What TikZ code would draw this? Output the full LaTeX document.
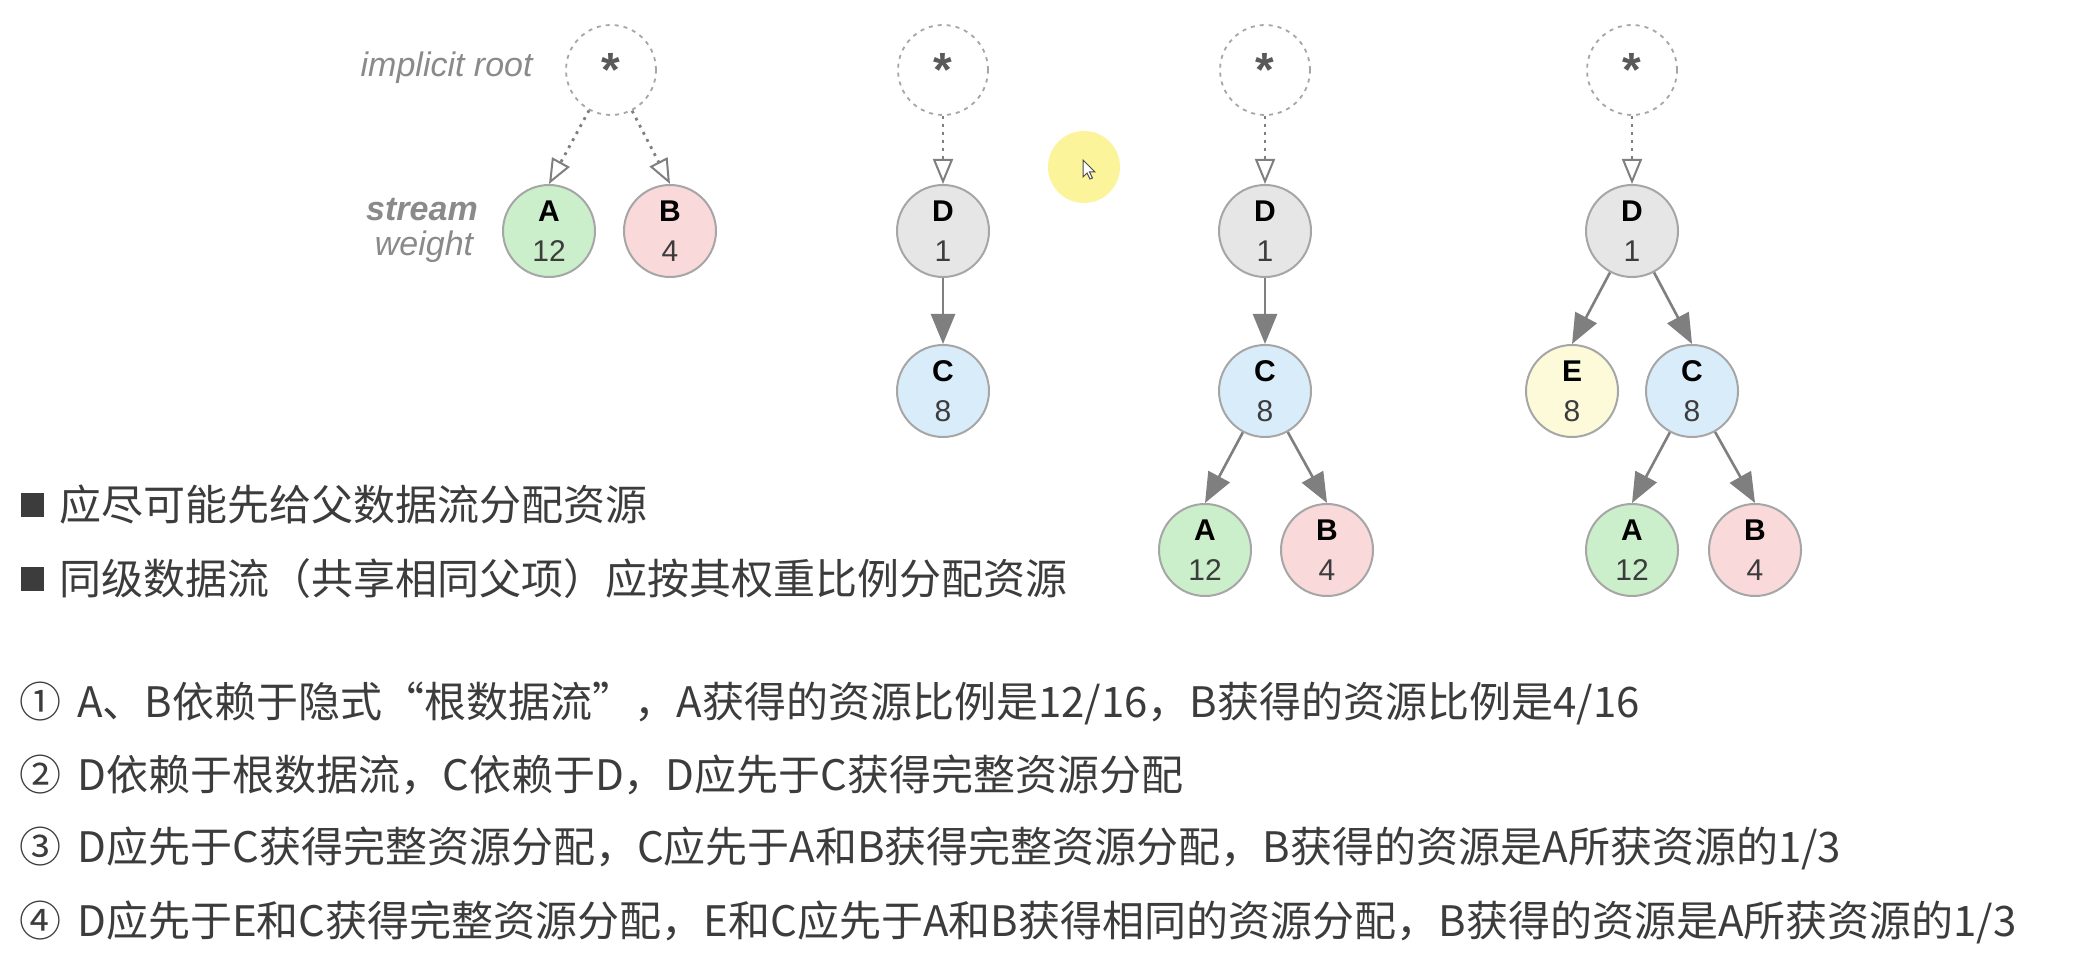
\documentclass[tikz,border=0pt]{standalone}
\usepackage{fontspec}
\newfontfamily\cjk{Noto Sans CJK SC}
\newfontfamily\hv{Liberation Sans}
\usetikzlibrary{arrows.meta}
\definecolor{gA}{HTML}{CBEFCB}
\definecolor{pB}{HTML}{F9D9D9}
\definecolor{bC}{HTML}{D9ECFA}
\definecolor{gD}{HTML}{E6E6E6}
\definecolor{yE}{HTML}{FCFAD8}
\definecolor{edgec}{HTML}{A6A6A6}
\definecolor{arrc}{HTML}{7F7F7F}
\definecolor{txtc}{HTML}{3C3C3C}
\definecolor{labc}{HTML}{8A8A8A}
\definecolor{hilite}{HTML}{FBF49A}
\tikzset{
  strm/.style={circle, draw=edgec, line width=1pt, minimum size=46pt, inner sep=0pt,
    align=center, font=\hv\fontsize{15}{20}\selectfont},
  rootc/.style={circle, draw=edgec, dash pattern=on 2pt off 2.5pt, line width=0.9pt,
    minimum size=45pt, inner sep=0pt, font=\hv\bfseries\fontsize{24}{24}\selectfont, text=black!65},
  dep/.style={draw=arrc, line width=1.3pt, -{Triangle[length=15pt,width=12pt]}},
  impl/.style={draw=arrc, line width=1.4pt, dash pattern=on 1.4pt off 2.6pt,
    -{Triangle[open,length=12.5pt,width=10pt,line width=1pt]}},
  cjkline/.style={anchor=west, font=\cjk\fontsize{21}{24}\selectfont, text=txtc, inner sep=0pt},
  lab/.style={font=\hv\itshape\fontsize{17}{20}\selectfont, text=labc, inner sep=0pt},
  sqb/.style={fill=txtc, minimum width=11.5pt, minimum height=12pt, inner sep=0pt},
}
\newcommand\stx[2]{\textbf{#1}\\{\color{txtc}#2}}
\begin{document}
\begin{tikzpicture}[x=0.5pt,y=-0.5pt]
\fill[white] (0,0) rectangle (2096,978);
\useasboundingbox (0,0) rectangle (2096,978);

% cursor highlight
\fill[hilite] (1084,167) circle[radius=36];
\draw[fill=white, draw=black!70, line width=0.5pt] (1083,160) -- ++(0,17) -- ++(4,-4) -- ++(3,6) -- ++(2.5,-1) -- ++(-3,-6) -- ++(5.5,0) -- cycle;

% tree 1
\node[lab, anchor=east] (lroot) at (533,68) {implicit root};
\node[lab, font=\hv\bfseries\itshape\fontsize{17}{20}\selectfont] (lstream) at (422,210) {stream};
\node[lab] (lweight) at (424,247) {weight};
\node[rootc] (r1) at (611,70) {*};
\node[strm, fill=gA] (A1) at (549,231) {\stx{A}{12}};
\node[strm, fill=pB] (B1) at (670,231) {\stx{B}{4}};
\draw[impl] (r1) -- (A1.north);
\draw[impl] (r1) -- (B1.north);

% tree 2
\node[rootc] (r2) at (943,70) {*};
\node[strm, fill=gD] (D2) at (943,231) {\stx{D}{1}};
\node[strm, fill=bC] (C2) at (943,391) {\stx{C}{8}};
\draw[impl] (r2) -- (D2);
\draw[dep] (D2) -- (C2);

% tree 3
\node[rootc] (r3) at (1265,70) {*};
\node[strm, fill=gD] (D3) at (1265,231) {\stx{D}{1}};
\node[strm, fill=bC] (C3) at (1265,391) {\stx{C}{8}};
\node[strm, fill=gA] (A3) at (1205,550) {\stx{A}{12}};
\node[strm, fill=pB] (B3) at (1327,550) {\stx{B}{4}};
\draw[impl] (r3) -- (D3);
\draw[dep] (D3) -- (C3);
\draw[dep] (C3) -- (A3.north);
\draw[dep] (C3) -- (B3.north);

% tree 4
\node[rootc] (r4) at (1632,70) {*};
\node[strm, fill=gD] (D4) at (1632,231) {\stx{D}{1}};
\node[strm, fill=yE] (E4) at (1572,391) {\stx{E}{8}};
\node[strm, fill=bC] (C4) at (1692,391) {\stx{C}{8}};
\node[strm, fill=gA] (A4) at (1632,550) {\stx{A}{12}};
\node[strm, fill=pB] (B4) at (1755,550) {\stx{B}{4}};
\draw[impl] (r4) -- (D4);
\draw[dep] (D4) -- (E4.north);
\draw[dep] (D4) -- (C4.north);
\draw[dep] (C4) -- (A4.north);
\draw[dep] (C4) -- (B4.north);

% bullets
\node[sqb] (sq1) at (32,505) {};
\node[cjkline] (t1) at (59,505) {应尽可能先给父数据流分配资源};
\node[sqb] (sq2) at (32,579) {};
\node[cjkline] (t2) at (59,579) {同级数据流（共享相同父项）应按其权重比例分配资源};

% numbered lines
\node[cjkline] (n1) at (19,703) {①\hspace{8pt}A、B依赖于隐式\makebox[1em][r]{“}根数据流\makebox[1em][l]{”}，A获得的资源比例是12/16，B获得的资源比例是4/16};
\node[cjkline] (n2) at (19,775) {②\hspace{8pt}D依赖于根数据流，C依赖于D，D应先于C获得完整资源分配};
\node[cjkline] (n3) at (19,848) {③\hspace{8pt}D应先于C获得完整资源分配，C应先于A和B获得完整资源分配，B获得的资源是A所获资源的1/3};
\node[cjkline] (n4) at (19,922) {④\hspace{8pt}D应先于E和C获得完整资源分配，E和C应先于A和B获得相同的资源分配，B获得的资源是A所获资源的1/3};
\end{tikzpicture}
\end{document}
